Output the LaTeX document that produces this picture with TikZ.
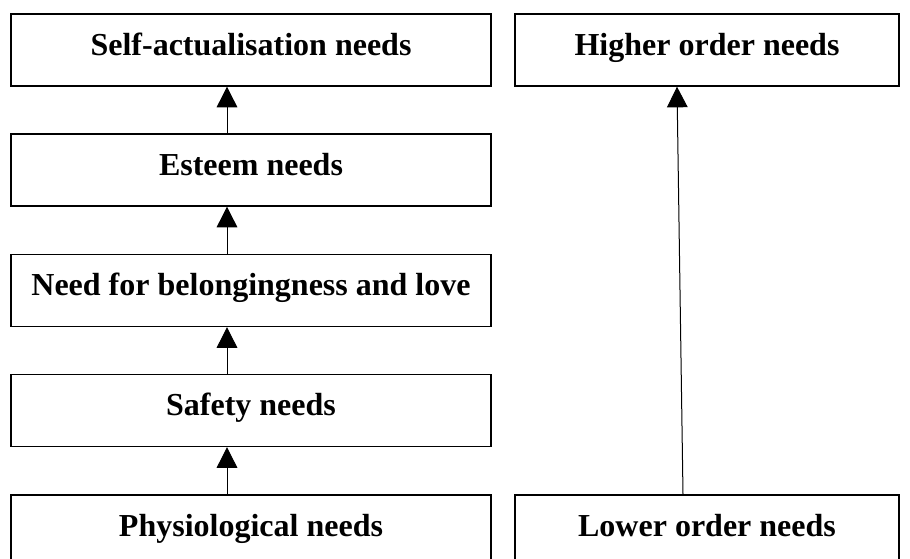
\documentclass[tikz,border=0pt]{standalone}
\usepackage{fontspec}
\setmainfont{Liberation Serif}
\usetikzlibrary{arrows.meta}

\tikzset{every picture/.style={line width=0.75pt}}
\tikzset{needbox/.style={draw, line width=1pt, minimum height=54pt, inner sep=0pt,
    text height=20pt, text depth=12pt, font=\fontsize{24}{28}\selectfont\bfseries},
  leftbox/.style={needbox, minimum width=360pt},
  rightbox/.style={needbox, minimum width=288pt},
  uparrow/.style={-{Triangle[width=15.5pt,length=15.5pt]}, line width=0.75pt}}

\begin{document}
\begin{tikzpicture}[x=0.75pt,y=0.75pt,yscale=-1,xscale=1]
\useasboundingbox (0,0) rectangle (910,558);
\clip (0,0) rectangle (910,558);

%Shape: Rectangle [hierarchy, left column]
\node [leftbox] (selfact) at (251,50) {Self-actualisation needs};
\node [leftbox] (esteem) at (251,170) {Esteem needs};
\node [leftbox] (belong) at (251,290.5) {Need for belongingness and love};
\node [leftbox] (safety) at (251,410.5) {Safety needs};
\node [leftbox] (physio) at (251,531) {Physiological needs};

%Shape: Rectangle [order, right column]
\node [rightbox] (higher) at (707,50) {Higher order needs};
\node [rightbox] (lower) at (707,531) {Lower order needs};

%Straight Lines
\draw [uparrow] ([xshift=-18pt]physio.north) -- ([xshift=-18pt]safety.south);
\draw [uparrow] ([xshift=-18pt]safety.north) -- ([xshift=-18pt]belong.south);
\draw [uparrow] ([xshift=-18pt]belong.north) -- ([xshift=-18pt]esteem.south);
\draw [uparrow] ([xshift=-18pt]esteem.north) -- ([xshift=-18pt]selfact.south);
\draw [uparrow] ([xshift=-18pt]lower.north) -- ([xshift=-22.5pt]higher.south);

\end{tikzpicture}
\end{document}
